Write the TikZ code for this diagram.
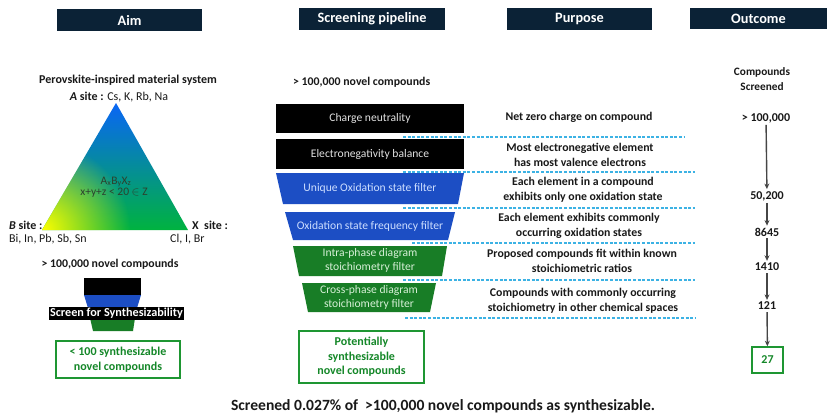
\documentclass[tikz,border=0pt]{standalone}
\usepackage{fontspec}
\setmainfont{Carlito}
\usetikzlibrary{fadings,arrows.meta}
\definecolor{navy}{RGB}{11,34,54}
\definecolor{fblue}{RGB}{28,78,196}
\definecolor{fbluetext}{RGB}{205,222,255}
\definecolor{fgreen}{RGB}{24,125,38}
\definecolor{fgreentext}{RGB}{215,240,215}
\definecolor{gborder}{RGB}{30,150,50}
\definecolor{gtext}{RGB}{20,135,40}
\definecolor{dashblue}{RGB}{60,178,228}
\definecolor{tblue}{RGB}{10,100,250}
\definecolor{tteal}{RGB}{0,160,150}
\definecolor{tgreen}{RGB}{0,180,60}
\definecolor{tyellow}{RGB}{255,255,0}
\definecolor{tritext}{RGB}{45,65,45}
\definecolor{boxtext}{RGB}{225,225,225}
\definecolor{arrgray}{RGB}{70,70,70}
\definecolor{txt}{RGB}{25,25,25}
\tikzfading[name=yfade, inner color=transparent!0, outer color=transparent!100]
\begin{document}
\begin{tikzpicture}[x=1pt,y=-1pt,
  hdr/.style={fill=navy,text=white,font=\fontsize{14.3}{16}\selectfont\bfseries,minimum height=22pt,inner sep=0pt},
  lbl/.style={text=txt,font=\fontsize{12}{13}\selectfont,inner sep=1pt},
  bl/.style={text=txt,font=\fontsize{11.8}{15}\selectfont\bfseries,align=center,inner sep=1pt},
  blackbox/.style={fill=black,text=boxtext,font=\fontsize{11.6}{14}\selectfont,minimum width=188pt,inner sep=0pt},
  boxlbl/.style={font=\fontsize{11.6}{14}\selectfont,align=center,inner sep=0pt},
  gbox/.style={draw=gborder,line width=1.6pt,text=gtext,font=\fontsize{12}{14.5}\selectfont\bfseries,align=center,inner sep=0pt},
  dline/.style={draw=dashblue,line width=1.2pt,dash pattern=on 3pt off 1.6pt},
  arr/.style={draw=arrgray,line width=1.4pt,-{Stealth[length=5.5pt,width=5pt]}},
  num/.style={text=txt,font=\fontsize{12}{15}\selectfont\bfseries,align=center,inner sep=2pt}
]
\useasboundingbox (0,0) rectangle (832,415);
\fill[white] (0,0) rectangle (832,415);

% headers
\node[hdr,minimum width=145pt] (hAim) at (129.5,20) {Aim};
\node[hdr,minimum width=146pt] (hPipe) at (372,19) {Screening pipeline};
\node[hdr,minimum width=145pt] (hPurp) at (579.5,19) {Purpose};
\node[hdr,minimum width=137pt,minimum height=21pt] (hOut) at (758.5,18.5) {Outcome};

% ---------- Aim column ----------
\node[lbl,font=\fontsize{12}{13}\selectfont\bfseries] (persys) at (128,80) {Perovskite-inspired material system};
\node[lbl] (asite) at (119,97) {\textbf{\textit{A} site :} Cs, K, Rb, Na};

\begin{scope}
\clip (116,103) -- (42,230) -- (188,230) -- cycle;
\shade[top color=tblue, middle color=tteal, bottom color=tgreen] (38,100) rectangle (192,232);
\fill[tyellow, path fading=yfade] (42,230) circle (88);
\end{scope}
\node[text=tritext,font=\fontsize{11.5}{12}\selectfont,inner sep=0pt,anchor=base] (formula) at (116,184) {A\textsubscript{x}B\textsubscript{y}X\textsubscript{z}};
\node[text=tritext,font=\fontsize{11.5}{12}\selectfont,inner sep=0pt,anchor=north] (cond) at (114,188) {x+y+z < 20 $\in$ Z};

\node[lbl,anchor=west] (bsite) at (8,225) {\textbf{\textit{B} site :}};
\node[lbl,anchor=west] (belem) at (8,239) {Bi, In, Pb, Sb, Sn};
\node[lbl,anchor=west] (xsite) at (191,225) {\textbf{X\ \ site :}};
\node[lbl,anchor=west] (xelem) at (169,239) {Cl, I, Br};

\node[bl] (lcount) at (110,264) {> 100,000 novel compounds};
\fill[black] (84,278) rectangle (141,295);
\fill[fblue] (84,295) -- (141,295) -- (137,308) -- (88,308) -- cycle;
\fill[fgreen] (90,318) -- (135,318) -- (133,331) -- (93,331) -- cycle;
\node[fill=black,text=white,font=\fontsize{12.2}{13}\selectfont\bfseries,inner sep=1pt] (screen) at (116.5,313.5) {Screen for Synthesizability};
\node[gbox,minimum width=124pt,minimum height=37pt] (lres) at (118,359.5) {< 100 synthesizable\\novel compounds};

% ---------- Pipeline column ----------
\node[bl,anchor=west] (mcount) at (292,82) {> 100,000 novel compounds};

% dashed separators
\coordinate (d1a) at (403,137); \coordinate (d1b) at (685,137);
\coordinate (d2a) at (403,172); \coordinate (d2b) at (695,172);
\coordinate (d3a) at (403,208); \coordinate (d3b) at (695,208);
\coordinate (d4a) at (412,243); \coordinate (d4b) at (695,243);
\coordinate (d5a) at (403,280); \coordinate (d5b) at (695,280);
\coordinate (d6a) at (405,318); \coordinate (d6b) at (695,318);
\foreach \i in {1,...,6} {\draw[dline] (d\i a) -- (d\i b);}

\node[blackbox,minimum height=29pt] (cn) at (370,118.5) {Charge neutrality};
\node[blackbox,minimum height=30pt] (eb) at (370,154) {Electronegativity balance};
\fill[fblue] (276,173) -- (464,173) -- (458,204) -- (283,204) -- cycle;
\node[boxlbl,text=fbluetext] (uo) at (370,188.5) {Unique Oxidation state filter};
\fill[fblue] (285,212) -- (455,212) -- (448,240) -- (293,240) -- cycle;
\node[boxlbl,text=fbluetext] (osf) at (370,226) {Oxidation state frequency filter};
\fill[fgreen] (293,246) -- (447,246) -- (442,276) -- (299,276) -- cycle;
\node[boxlbl,text=fgreentext] (intra) at (370,260.5) {Intra-phase diagram\\stoichiometry filter};
\fill[fgreen] (302,283) -- (436,283) -- (430,312) -- (308,312) -- cycle;
\node[boxlbl,text=fgreentext] (cross) at (369,297) {Cross-phase diagram\\stoichiometry filter};

\node[gbox,minimum width=125pt,minimum height=52pt] (pres) at (361.5,357) {Potentially\\synthesizable\\novel compounds};

% ---------- Purpose column ----------
\node[bl] (p1) at (579,117) {Net zero charge on compound};
\node[bl] (p2) at (580,154.5) {Most electronegative element\\has most valence electrons};
\node[bl] (p3) at (583,189.5) {Each element in a compound\\exhibits only one oxidation state};
\node[bl] (p4) at (579,225.5) {Each element exhibits commonly\\occurring oxidation states};
\node[bl] (p5) at (582,260.5) {Proposed compounds fit within known\\stoichiometric ratios};
\node[bl] (p6) at (583,300.5) {Compounds with commonly occurring\\stoichiometry in other chemical spaces};

% ---------- Outcome column ----------
\node[bl,font=\fontsize{11.3}{15}\selectfont\bfseries] (oc) at (762,79.5) {Compounds\\Screened};
\node[num] (o1) at (766,118) {> 100,000};
\node[num] (o2) at (767,196) {50,200};
\node[num] (o3) at (767,232) {8645};
\node[num] (o4) at (767,267) {1410};
\node[num] (o5) at (767,306) {121};
\node[gbox,minimum width=31pt,minimum height=26pt,font=\fontsize{12}{14}\selectfont\bfseries] (o6) at (767.5,360) {27};
\draw[arr] (o1) -- (o2);
\draw[arr] (o2) -- (o3);
\draw[arr] (o3) -- (o4);
\draw[arr] (o4) -- (o5);
\draw[arr] (o5) -- (o6);

% caption
\node[text=txt,font=\fontsize{15.6}{17}\selectfont\bfseries,inner sep=0pt] (cap) at (443,406) {Screened 0.027\% of\ \ >100,000 novel compounds as synthesizable.};
\end{tikzpicture}
\end{document}
